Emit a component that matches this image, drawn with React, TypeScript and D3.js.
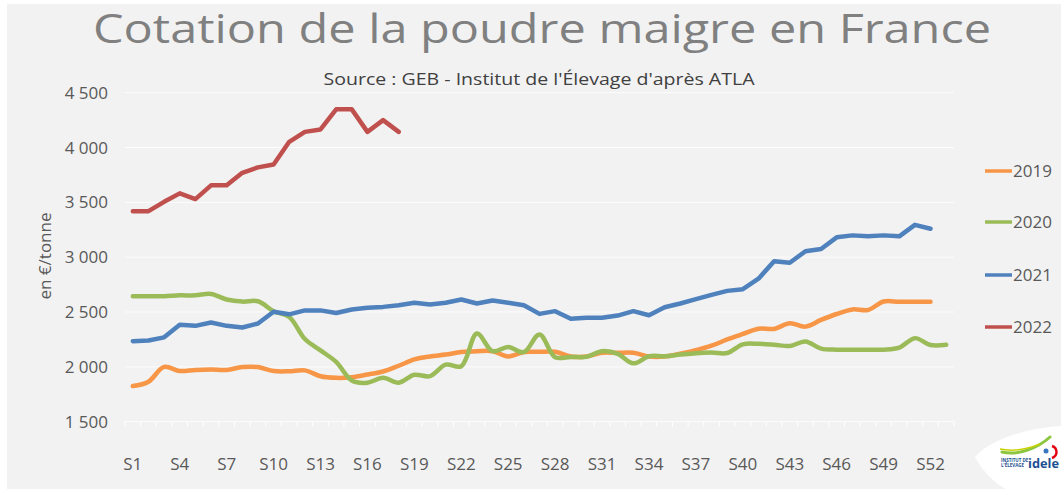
import React from "react";
import * as d3 from "d3";

const weeks = [
  "S1","S2","S3","S4","S5","S6","S7","S8","S9","S10","S11","S12","S13","S14","S15","S16","S17","S18",
  "S19","S20","S21","S22","S23","S24","S25","S26","S27","S28","S29","S30","S31","S32","S33","S34","S35",
  "S36","S37","S38","S39","S40","S41","S42","S43","S44","S45","S46","S47","S48","S49","S50","S51","S52","S53",
];
const tickWeeks = ["S1","S4","S7","S10","S13","S16","S19","S22","S25","S28","S31","S34","S37","S40","S43","S46","S49","S52"];
const yTicks = [1500, 2000, 2500, 3000, 3500, 4000, 4500];

const v2019 = [1825,1865,2000,1962,1972,1975,1972,1998,1998,1962,1960,1968,1915,1900,1906,1930,1958,2010,2068,2095,2112,2135,2143,2143,2095,2135,2137,2137,2094,2094,2128,2128,2128,2094,2094,2120,2152,2193,2250,2300,2348,2346,2398,2367,2428,2482,2524,2518,2596,2593,2593,2593];
const v2020 = [2644,2644,2644,2652,2652,2665,2614,2595,2598,2508,2455,2254,2150,2045,1875,1855,1900,1856,1928,1915,2020,2006,2304,2143,2182,2134,2295,2088,2091,2091,2143,2119,2032,2097,2097,2112,2125,2130,2126,2205,2210,2202,2190,2232,2166,2157,2157,2157,2157,2175,2262,2199,2202];
const v2021 = [2234,2240,2269,2383,2374,2404,2374,2359,2395,2503,2479,2515,2515,2491,2523,2540,2547,2562,2584,2568,2584,2614,2578,2605,2584,2562,2483,2508,2438,2447,2447,2468,2508,2471,2544,2578,2617,2657,2693,2708,2804,2964,2949,3054,3075,3181,3199,3190,3199,3190,3295,3259];
const v2022 = [3420,3420,3505,3582,3530,3655,3655,3770,3819,3846,4052,4143,4165,4348,4348,4143,4250,4143];

const seriesNames = ["2019", "2020", "2021", "2022"];
const seriesColors = ["#F79646", "#9BBB59", "#4F81BD", "#C0504D"];
const seriesValues = [v2019, v2020, v2021, v2022];
const seriesSmooth = [true, true, false, false];

const FONT = "'Open Sans', Lato, 'DejaVu Sans', sans-serif";

export default function App() {
  const W = 1061, H = 491;
  const left = 125, right = 954, top = 92.7, bottom = 421.7;
  const x = d3.scaleBand<string>().domain(weeks).range([left, right]).padding(0);
  const y = d3.scaleLinear().domain([1500, 4500]).range([bottom, top]);
  const bw = x.bandwidth();
  const cx = (w: string) => (x(w) as number) + bw / 2;

  const paths = seriesValues.map((vals, i) => {
    const line = d3
      .line<number>()
      .x((_, j) => cx(weeks[j]))
      .y((v) => y(v))
      .curve(seriesSmooth[i] ? d3.curveCatmullRom.alpha(0.5) : d3.curveLinear);
    return line(vals) as string;
  });

  const legendY = [171, 222, 275, 327];

  return (
    <div style={{ position: "absolute", left: 0, top: 0 }}>
      <svg width={W} height={H} style={{ display: "block" }}>
        <rect x={0} y={0} width={W} height={H} fill="#ffffff" />
        <rect x={7} y={4} width={W - 7} height={485} fill="#f2f2f2" />
        <text x={542} y={43} textAnchor="middle" fontFamily={FONT} fontSize={40} fill="#808080"
          textLength={898} lengthAdjust="spacingAndGlyphs">
          Cotation de la poudre maigre en France
        </text>
        <text x={539} y={85} textAnchor="middle" fontFamily={FONT} fontSize={15.5} fill="#404040"
          textLength={431} lengthAdjust="spacingAndGlyphs">
          Source : GEB - Institut de l'Élevage d'après ATLA
        </text>
        {/* gridlines */}
        {yTicks.map((t) => (
          <line key={t} x1={left} x2={right} y1={y(t)} y2={y(t)} stroke="#ffffff" strokeWidth={1} opacity={0.85} />
        ))}
        {/* x ticks */}
        {weeks.concat(["end"]).map((w, i) => {
          const xx = left + i * bw;
          return <line key={w + i} x1={xx} x2={xx} y1={bottom} y2={bottom + 5} stroke="#ffffff" strokeWidth={1} />;
        })}
        {/* y labels */}
        {yTicks.map((t) => (
          <text key={t} x={108} y={y(t) + 6} textAnchor="end" fontFamily={FONT} fontSize={17} fill="#595959">
            {d3.format(",")(t).replace(",", " ")}
          </text>
        ))}
        <text transform={`translate(51,256) rotate(-90)`} textAnchor="middle" fontFamily={FONT} fontSize={17} fill="#595959">
          en €/tonne
        </text>
        {/* x labels */}
        {tickWeeks.map((w) => (
          <text key={w} x={cx(w)} y={470} textAnchor="middle" fontFamily={FONT} fontSize={17} fill="#595959">
            {w}
          </text>
        ))}
        {/* series */}
        {paths.map((p, i) => (
          <path key={i} d={p} fill="none" stroke={seriesColors[i]} strokeWidth={4.5}
            strokeLinejoin="round" strokeLinecap="round" />
        ))}
        {/* legend */}
        {seriesNames.map((n, i) => (
          <g key={n}>
            <line x1={985} x2={1012} y1={legendY[i]} y2={legendY[i]} stroke={seriesColors[i]} strokeWidth={3.5} />
            <text x={1013} y={legendY[i] + 6} fontFamily={FONT} fontSize={17} fill="#595959">{n}</text>
          </g>
        ))}
        {/* logo */}
        <path d="M975,457 C990,440 1025,428 1061,426 L1061,491 L1010,491 C995,485 982,470 975,457 Z" fill="#ffffff" />
        <path d="M1002,452 C1018,456 1038,448 1050,437" fill="none" stroke="#8cc63f" strokeWidth={3} strokeLinecap="round" />
        <path d="M1000,449 C1015,452 1028,449 1040,444" fill="none" stroke="#c9d200" strokeWidth={1.5} />
        <circle cx={1046} cy={451} r={2.5} fill="#3a75c4" />
        <path d="M1052,446 C1058,448 1058,456 1052,458" fill="none" stroke="#e30613" strokeWidth={2.5} />
        <text x={1001} y={462} fontFamily={FONT} fontSize={4.5} fontWeight="bold" fill="#1d4f91">INSTITUT DE</text>
        <text x={1001} y={467} fontFamily={FONT} fontSize={4.5} fontWeight="bold" fill="#1d4f91">L'ÉLEVAGE</text>
        <text x={1028} y={468} fontFamily={FONT} fontSize={13} fontWeight="bold" fill="#1d4f91"
          textLength={31} lengthAdjust="spacingAndGlyphs">idele</text>
      </svg>
    </div>
  );
}
